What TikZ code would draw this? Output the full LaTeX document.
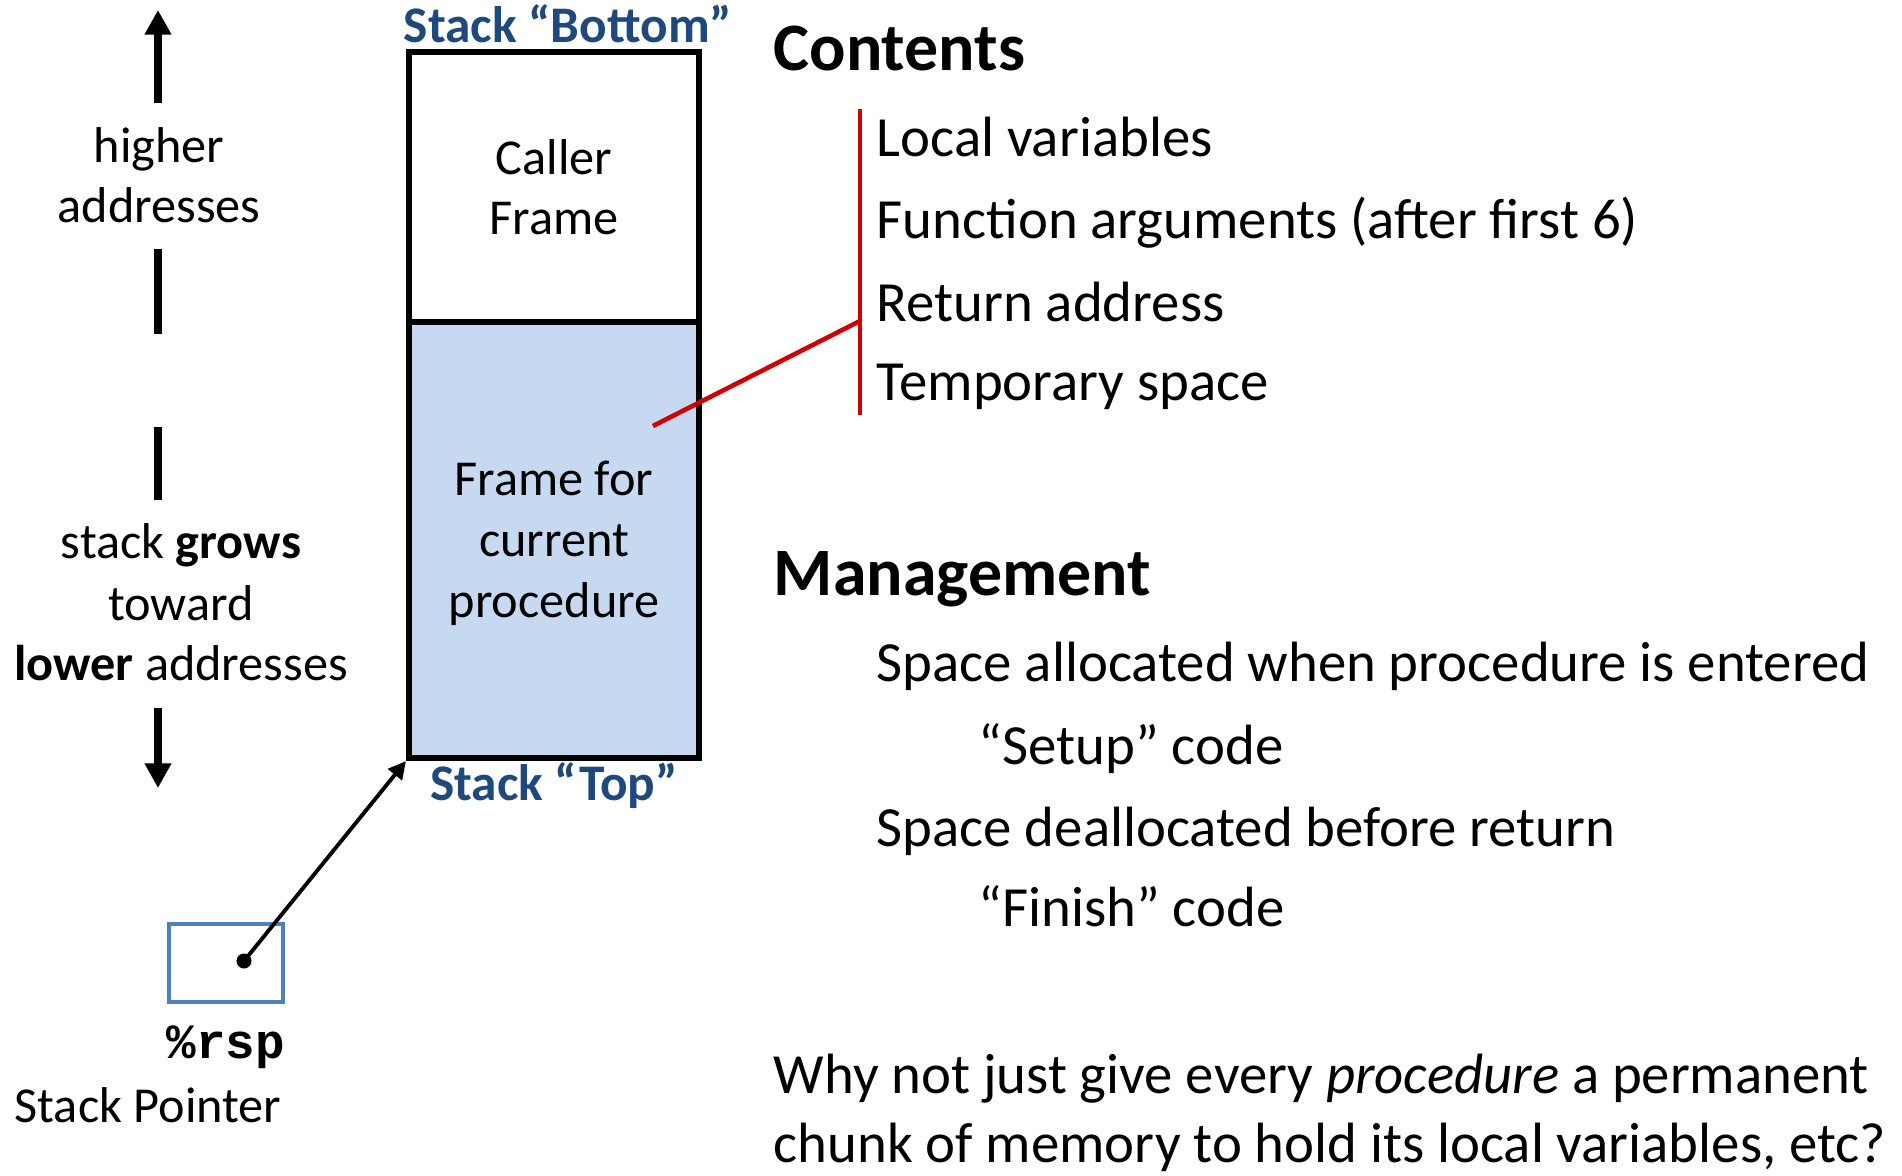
\documentclass[tikz,border=0pt]{standalone}
\usepackage{fontspec}
\setmainfont{Carlito}
\setmonofont{Liberation Mono}
\usetikzlibrary{arrows.meta}
\definecolor{stackblue}{RGB}{31,73,125}
\definecolor{framefill}{RGB}{198,217,241}
\definecolor{regblue}{RGB}{79,129,189}
\definecolor{markred}{RGB}{204,0,0}

\begin{document}
\begin{tikzpicture}[
    x=0.01cm,y=-0.01cm,
    >={Triangle[length=7pt,width=7.2pt]},
    frame node/.style={draw,line width=1.7pt,inner sep=0,minimum width=2.9cm},
    side text/.style={font=\fontsize{14.3}{17}\selectfont,inner sep=0,anchor=base},
    stack label/.style={font=\fontsize{14.6}{17}\selectfont\bfseries,text=stackblue,inner sep=0,anchor=base},
    heading/.style={font=\fontsize{19.3}{23}\selectfont\bfseries,inner sep=0,anchor=base west},
    item/.style={font=\fontsize{16.15}{19}\selectfont,inner sep=0,anchor=base west}
  ]
  \useasboundingbox (0,0) rectangle (1902,1176);

  % the two frames
  \node[frame node,minimum height=4.36cm,fill=framefill] (current) at (554,540) {};
  \node[frame node,minimum height=2.70cm] (caller) at (554,187) {};
  \node[side text] (callerA) at (554,175) {Caller};
  \node[side text] (callerB) at (554,235) {Frame};
  \node[side text] (curA) at (554,495) {Frame for};
  \node[side text] (curB) at (554,557) {current};
  \node[side text] (curC) at (554,617) {procedure};
  \node[stack label] (bottom) at (568,43) {Stack “Bottom”};
  \node[stack label] (top) at (554,800) {Stack “Top”};

  % direction of growth
  \coordinate (upbase) at (158,103);
  \coordinate (uptip) at (158,10);
  \coordinate (barA1) at (158,249);
  \coordinate (barA2) at (158,334);
  \coordinate (barB1) at (158,427);
  \coordinate (barB2) at (158,500);
  \coordinate (downbase) at (158,708);
  \coordinate (downtip) at (158,788);
  \draw[->,line width=2.3pt] (upbase) -- (uptip);
  \draw[line width=2.3pt] (barA1) -- (barA2);
  \draw[line width=2.3pt] (barB1) -- (barB2);
  \draw[->,line width=2.3pt] (downbase) -- (downtip);
  \node[side text] (higher) at (159,163) {higher};
  \node[side text] (addrA) at (159,222) {addresses};
  \node[side text] (grows) at (181,558) {stack \textbf{grows}};
  \node[side text] (toward) at (181,620) {toward};
  \node[side text] (lower) at (181,680) {\textbf{lower} addresses};

  % stack pointer
  \node[draw=regblue,line width=1.4pt,minimum width=1.14cm,minimum height=0.78cm,inner sep=0] (rsp) at (226,963) {};
  \node[circle,fill,inner sep=0,minimum size=0.15cm] (dot) at (244,961) {};
  \draw[-{Triangle[length=5pt,width=5pt]},line width=1.1pt] (dot.center) -- (current.south west);
  \node[side text,font=\fontsize{14}{17}\selectfont\ttfamily\bfseries] (rspname) at (226,1058) {\%rsp};
  \node[side text] (sp) at (148,1122) {Stack Pointer};

  % contents
  \node[heading] (contents) at (773,71) {Contents};
  \node[item] (local) at (876,157) {Local variables};
  \node[item] (args) at (876,239) {Function arguments (after first 6)};
  \node[item] (ret) at (876,322) {Return address};
  \node[item] (temp) at (876,401) {Temporary space};
  \coordinate (rettop) at (860,109);
  \coordinate (retbot) at (860,415);
  \coordinate (retjoin) at (860,321);
  \coordinate (retfoot) at (653,426);
  \draw[markred,line width=1pt] (rettop) -- (retbot);
  \draw[markred,line width=1.3pt] (retfoot) -- (retjoin);

  % management
  \node[heading] (manage) at (773,595) {Management};
  \node[item] (alloc) at (876,681) {Space allocated when procedure is entered};
  \node[item] (setup) at (978,764) {“Setup” code};
  \node[item] (dealloc) at (876,846) {Space deallocated before return};
  \node[item] (finish) at (978,926) {“Finish” code};

  \node[item] (whyA) at (773,1093) {Why not just give every \textit{procedure} a permanent};
  \node[item] (whyB) at (773,1162) {chunk of memory to hold its local variables, etc?};
\end{tikzpicture}
\end{document}
